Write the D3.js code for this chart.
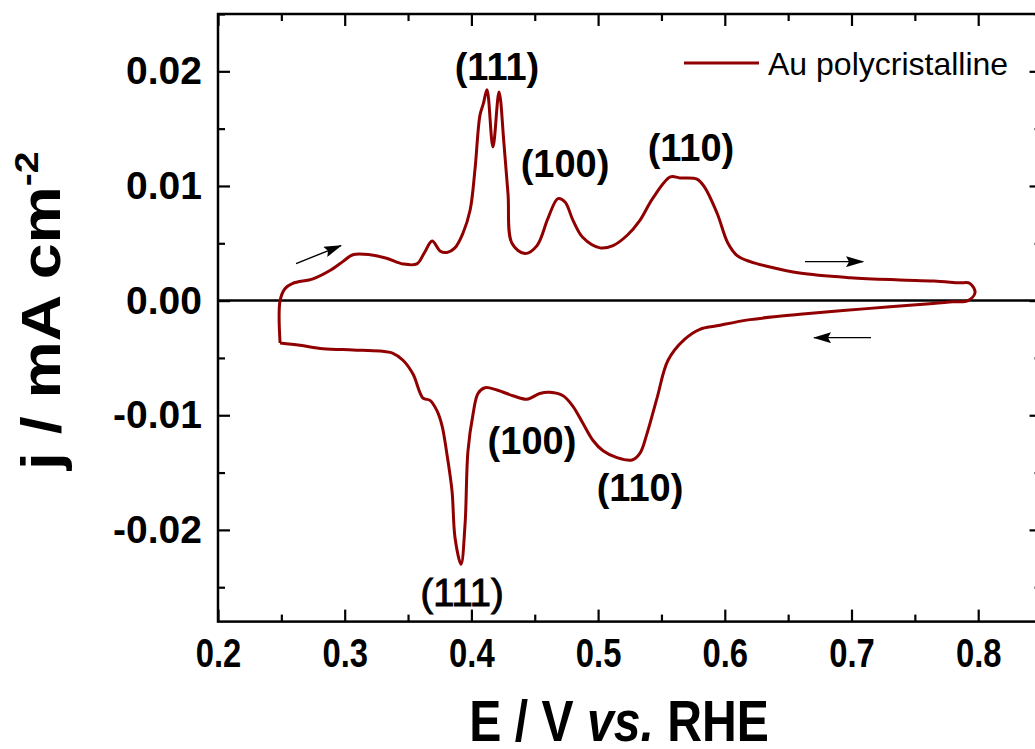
<!DOCTYPE html>
<html>
<head>
<meta charset="utf-8">
<script src="https://cdn.jsdelivr.net/npm/d3@7"></script>
<style>
  html, body { margin: 0; padding: 0; background: #ffffff; }
  svg { display: block; }
  text { font-family: "Liberation Sans", Arial, sans-serif; fill: #000; }
</style>
</head>
<body>
<svg id="chart" width="1035" height="749"></svg>
<script>
// ---------- data ----------
const potential = [
  0.249, 0.249, 0.253, 0.259, 0.275, 0.288, 0.2985, 0.3065, 0.320, 0.333,
  0.346, 0.357, 0.363, 0.369, 0.3755, 0.3807, 0.387, 0.3934, 0.399, 0.4028,
  0.4068, 0.4095, 0.4123, 0.417, 0.4218, 0.4257, 0.4289, 0.432, 0.4423, 0.4518,
  0.4605, 0.4683, 0.4739, 0.4802, 0.488, 0.5015, 0.5118, 0.523, 0.533, 0.543,
  0.557, 0.5646, 0.578, 0.584, 0.594, 0.6025, 0.610, 0.620, 0.633, 0.659,
  0.699, 0.738, 0.765, 0.785, 0.7935, 0.7975, 0.792,
  0.780, 0.7643, 0.7122, 0.6593, 0.6199, 0.5938, 0.5804, 0.568, 0.5552, 0.5465, 0.5386,
  0.5331, 0.5268, 0.5149, 0.5039, 0.496, 0.488, 0.480, 0.4723, 0.462, 0.454,
  0.4439, 0.4328, 0.4202, 0.4107, 0.4052, 0.4013, 0.3973, 0.3950, 0.3918, 0.3871,
  0.3847, 0.3807, 0.3768, 0.3728, 0.3673, 0.3618, 0.3539, 0.346, 0.3381, 0.3279,
  0.3066, 0.2829, 0.2647, 0.249
];
const current = [
  -0.0037, 0.0000, 0.00105, 0.0015, 0.0019, 0.0026, 0.0034, 0.0040, 0.0040, 0.0037,
  0.0032, 0.0032, 0.0042, 0.0052, 0.0043, 0.0042, 0.0046, 0.0059, 0.0079, 0.0114,
  0.0162, 0.0172, 0.0184, 0.0134, 0.0182, 0.0137, 0.0093, 0.0050, 0.0041, 0.0048,
  0.0072, 0.0089, 0.0086, 0.0070, 0.0055, 0.0046, 0.0048, 0.0057, 0.0070, 0.0089,
  0.0108, 0.0107, 0.0106, 0.0099, 0.0076, 0.0050, 0.0039, 0.0034, 0.0030, 0.0024,
  0.0020, 0.0018, 0.0017, 0.00155, 0.0015, 0.0007, 0.0000,
  -0.0001, -0.00026, -0.0007, -0.0012, -0.00166, -0.0022, -0.0025, -0.0034, -0.0052, -0.0085, -0.0116,
  -0.0133, -0.0139, -0.0137, -0.0131, -0.0122, -0.0107, -0.0092, -0.0083, -0.0080, -0.0081,
  -0.0086, -0.0083, -0.0078, -0.0076, -0.0081, -0.0099, -0.0131, -0.0195, -0.0230, -0.0207,
  -0.0166, -0.0134, -0.0109, -0.0096, -0.0087, -0.0085, -0.0064, -0.0052, -0.0046, -0.0044,
  -0.0043, -0.0042, -0.0039, -0.0037
];
const seriesName = "Au polycristalline";

const xTickValues = [0.2, 0.3, 0.4, 0.5, 0.6, 0.7, 0.8];
const xMinorValues = [0.25, 0.35, 0.45, 0.55, 0.65, 0.75, 0.85];
const yTickValues = [-0.02, -0.01, 0.00, 0.01, 0.02];
const yMinorValues = [-0.025, -0.015, -0.005, 0.005, 0.015, 0.025];
const yTickLabels = ["-0.02", "-0.01", "0.00", "0.01", "0.02"];

// peak labels [E, j (baseline), text]
const peakLabelE = [0.4202, 0.4739, 0.5733, 0.4478, 0.5331, 0.3926];
const peakLabelJ = [0.0192, 0.0108, 0.0122, -0.01336, -0.01747, -0.02664];
const peakLabelText = ["(111)", "(100)", "(110)", "(100)", "(110)", "(111)"];
const peakLabelBold = [true, true, true, true, true, false];

// scan direction arrows [E0, j0, E1, j1]
const arrowE0 = [0.2616, 0.6633, 0.7154];
const arrowJ0 = [0.00323, 0.0034, -0.00323];
const arrowE1 = [0.2971, 0.7091, 0.6704];
const arrowJ1 = [0.00480, 0.0034, -0.00323];

// ---------- layout ----------
const svg = d3.select("#chart");
const mLeft = 218, mTop = 14, mBottom = 621.6;
const mRight = 218 + 0.65 * 1267;

const x = d3.scaleLinear().domain([0.2, 0.85]).range([mLeft, mRight]);
const y = d3.scaleLinear().domain([-0.028, 0.025]).range([mBottom, mTop]);

const lineColor = "#900000";

// axes
const gx = svg.append("g").attr("transform", `translate(0,${mBottom})`)
  .call(d3.axisBottom(x).tickValues(xTickValues).tickSize(-12).tickPadding(16)
        .tickFormat(d3.format(".1f")));
svg.append("g").attr("transform", `translate(0,${mBottom})`)
  .call(d3.axisBottom(x).tickValues(xMinorValues).tickSize(-7).tickFormat(""));
svg.append("g").attr("transform", `translate(0,${mTop})`)
  .call(d3.axisTop(x).tickValues(xTickValues).tickSize(-12).tickFormat(""));
svg.append("g").attr("transform", `translate(0,${mTop})`)
  .call(d3.axisTop(x).tickValues(xMinorValues).tickSize(-7).tickFormat(""));

const gy = svg.append("g").attr("transform", `translate(${mLeft},0)`)
  .call(d3.axisLeft(y).tickValues(yTickValues).tickSize(-12).tickPadding(16)
        .tickFormat((d, i) => yTickLabels[i]));
svg.append("g").attr("transform", `translate(${mLeft},0)`)
  .call(d3.axisLeft(y).tickValues(yMinorValues).tickSize(-7).tickFormat(""));
svg.append("g").attr("transform", `translate(${mRight},0)`)
  .call(d3.axisRight(y).tickValues(yTickValues).tickSize(-12).tickFormat(""));
svg.append("g").attr("transform", `translate(${mRight},0)`)
  .call(d3.axisRight(y).tickValues(yMinorValues).tickSize(-7).tickFormat(""));

svg.selectAll(".domain").remove();
svg.selectAll(".tick line").attr("stroke", "#000").attr("stroke-width", 2.2);

gy.selectAll(".tick text")
  .attr("font-size", 39).attr("font-weight", "bold")
  .style("font-family", '"Liberation Sans", Arial, sans-serif');
gx.selectAll(".tick text")
  .attr("font-size", 41).attr("font-weight", "bold")
  .attr("transform", "scale(0.8,1)")
  .style("font-family", '"Liberation Sans", Arial, sans-serif');

// frame
svg.append("rect")
  .attr("x", mLeft).attr("y", mTop)
  .attr("width", mRight - mLeft).attr("height", mBottom - mTop)
  .attr("fill", "none").attr("stroke", "#000").attr("stroke-width", 2.5);

// zero line
svg.append("line")
  .attr("x1", mLeft).attr("x2", mRight)
  .attr("y1", y(0)).attr("y2", y(0))
  .attr("stroke", "#000").attr("stroke-width", 2.5);

// CV curve
const pts = potential.map((e, i) => [e, current[i]]);
const line = d3.line().x(d => x(d[0])).y(d => y(d[1])).curve(d3.curveCatmullRom.alpha(0.5));
svg.append("path")
  .datum(pts)
  .attr("d", line)
  .attr("fill", "none")
  .attr("stroke", lineColor)
  .attr("stroke-width", 3)
  .attr("stroke-linejoin", "round");

// arrows
const defs = svg.append("defs");
defs.append("marker")
  .attr("id", "ah").attr("viewBox", "0 0 18 11")
  .attr("refX", 17).attr("refY", 5.5)
  .attr("markerWidth", 18).attr("markerHeight", 11)
  .attr("markerUnits", "userSpaceOnUse")
  .attr("orient", "auto")
  .append("path").attr("d", "M0,0 L18,5.5 L0,11 L3,5.5 Z").attr("fill", "#000");

arrowE0.forEach((e, i) => {
  svg.append("line")
    .attr("x1", x(e)).attr("y1", y(arrowJ0[i]))
    .attr("x2", x(arrowE1[i])).attr("y2", y(arrowJ1[i]))
    .attr("stroke", "#000").attr("stroke-width", 1.4)
    .attr("marker-end", "url(#ah)");
});

// peak labels
peakLabelText.forEach((t, i) => {
  svg.append("text")
    .attr("x", x(peakLabelE[i])).attr("y", y(peakLabelJ[i]))
    .attr("text-anchor", "middle")
    .attr("font-size", 38)
    .attr("font-weight", peakLabelBold[i] ? "bold" : "normal")
    .attr("stroke", peakLabelBold[i] ? "none" : "#000")
    .attr("stroke-width", peakLabelBold[i] ? 0 : 1)
    .text(t);
});

// legend
svg.append("line")
  .attr("x1", 684).attr("x2", 759).attr("y1", 63).attr("y2", 63)
  .attr("stroke", lineColor).attr("stroke-width", 3);
svg.append("text")
  .attr("x", 768).attr("y", 75)
  .attr("font-size", 32)
  .text(seriesName);

// axis titles
const xt = svg.append("text")
  .attr("text-anchor", "middle")
  .attr("font-size", 58).attr("font-weight", "bold")
  .attr("transform", `translate(619,741) scale(0.83,1)`);
xt.append("tspan").text("E / V ");
xt.append("tspan").attr("font-style", "italic").text("vs.");
xt.append("tspan").text(" RHE");

const yt = svg.append("text")
  .attr("text-anchor", "start")
  .attr("font-size", 56).attr("font-weight", "bold")
  .attr("transform", `translate(60,470) rotate(-90) scale(1.15,1)`);
yt.append("tspan").text("j / mA cm");
yt.append("tspan").attr("font-size", 34).attr("dy", -22).text("-2");
</script>
</body>
</html>
